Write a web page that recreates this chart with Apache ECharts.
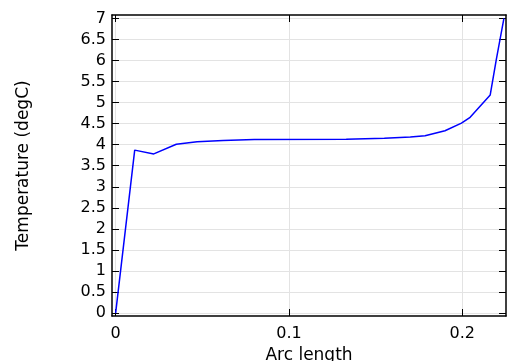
<!DOCTYPE html>
<html>
<head>
<meta charset="utf-8">
<script src="https://cdn.jsdelivr.net/npm/echarts@6/dist/echarts.min.js"></script>
<style>
html,body{margin:0;padding:0;background:#fff;}
#c{width:507px;height:361px;}
</style>
</head>
<body>
<div id="c"></div>
<script>
// Arc length values
var arcLength = [0, 0.011, 0.022, 0.035, 0.047, 0.062, 0.080, 0.133, 0.155, 0.170, 0.1785, 0.190, 0.1995, 0.2045, 0.2161, 0.2196, 0.2240];
// Temperature values (degC)
var temperature = [0, 3.87, 3.78, 4.01, 4.07, 4.10, 4.12, 4.13, 4.15, 4.18, 4.21, 4.33, 4.51, 4.65, 5.18, 6.02, 7.00];
// Tick values
var xTicks = [0, 0.1, 0.2];
var yTicks = [0, 0.5, 1, 1.5, 2, 2.5, 3, 3.5, 4, 4.5, 5, 5.5, 6, 6.5, 7];

var xMin = -0.0021, xMax = 0.2252, yMin = -0.07, yMax = 7.08;

var points = arcLength.map(function (x, i) { return [x, temperature[i]]; });

var font = 'DejaVu Sans';
var chart = echarts.init(document.getElementById('c'), null, {renderer: 'canvas'});

function fmt(v) { return String(Math.round(v * 1000) / 1000); }

chart.setOption({
  animation: false,
  backgroundColor: '#fff',
  grid: {left: 112, right: 1, top: 15, bottom: 45, containLabel: false, outerBoundsMode: 'none'},
  xAxis: [{
    type: 'value', min: xMin, max: xMax, position: 'bottom',
    name: 'Arc length', nameLocation: 'middle', nameGap: 27,
    nameTextStyle: {fontFamily: font, fontSize: 17, color: '#000'},
    axisLine: {show: true, onZero: false, lineStyle: {color: '#000', width: 1.5}},
    axisTick: {show: true, inside: true, length: 7, customValues: xTicks, lineStyle: {color: '#000', width: 1}},
    axisLabel: {show: true, customValues: xTicks, margin: 10, fontFamily: font, fontSize: 16, color: '#000', formatter: fmt},
    splitLine: {show: true, lineStyle: {color: '#e3e3e3', width: 1}}
  }, {
    type: 'value', min: xMin, max: xMax, position: 'top',
    axisLine: {show: true, onZero: false, lineStyle: {color: '#000', width: 1.5}},
    axisTick: {show: true, inside: true, length: 7, customValues: xTicks, lineStyle: {color: '#000', width: 1}},
    axisLabel: {show: false},
    splitLine: {show: false}
  }],
  yAxis: [{
    type: 'value', min: yMin, max: yMax, position: 'left',
    name: 'Temperature (degC)', nameLocation: 'middle', nameGap: 80, nameRotate: 90,
    nameTextStyle: {fontFamily: font, fontSize: 17, color: '#000'},
    axisLine: {show: true, onZero: false, lineStyle: {color: '#000', width: 1.5}},
    axisTick: {show: true, inside: true, length: 7, customValues: yTicks, lineStyle: {color: '#000', width: 1}},
    axisLabel: {show: true, customValues: yTicks, margin: 6, padding: [3, 0, 0, 0], fontFamily: font, fontSize: 16, color: '#000', formatter: fmt},
    splitLine: {show: true, lineStyle: {color: '#e3e3e3', width: 1}}
  }, {
    type: 'value', min: yMin, max: yMax, position: 'right',
    axisLine: {show: true, onZero: false, lineStyle: {color: '#000', width: 1.5}},
    axisTick: {show: true, inside: true, length: 7, customValues: yTicks, lineStyle: {color: '#000', width: 1}},
    axisLabel: {show: false},
    splitLine: {show: false}
  }],
  series: [{
    type: 'line', data: points, xAxisIndex: 0, yAxisIndex: 0,
    showSymbol: false, symbol: 'none', clip: true,
    lineStyle: {color: '#0000ff', width: 1.5}
  }]
});
</script>
</body>
</html>
